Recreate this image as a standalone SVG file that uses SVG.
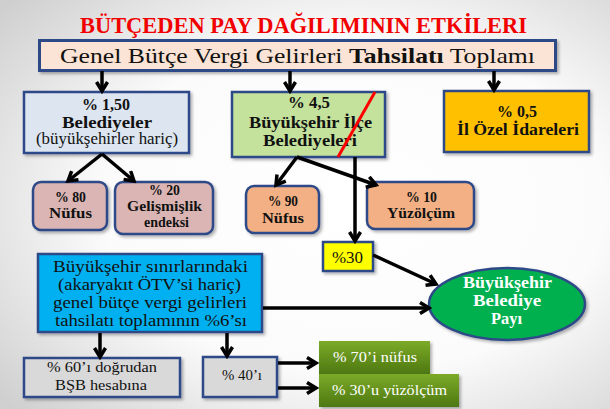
<svg xmlns="http://www.w3.org/2000/svg" width="610" height="409" viewBox="0 0 610 409" font-family="'Liberation Serif', 'DejaVu Serif', serif">
<defs>
<radialGradient id="bg" cx="58%" cy="50%" r="75%">
<stop offset="0" stop-color="#ffffff"/>
<stop offset="0.55" stop-color="#fbfbfb"/>
<stop offset="1" stop-color="#cfcfcf"/>
</radialGradient>
<linearGradient id="gg" x1="0" y1="0" x2="0" y2="1">
<stop offset="0" stop-color="#7caa28"/>
<stop offset="1" stop-color="#4d7812"/>
</linearGradient>
<filter id="sh" x="-10%" y="-10%" width="125%" height="130%">
<feDropShadow dx="2" dy="2" stdDeviation="1.5" flood-color="#000" flood-opacity="0.3"/>
</filter>
<marker id="ah" viewBox="0 0 14 14" markerWidth="14" markerHeight="14" refX="11" refY="7" orient="auto" markerUnits="userSpaceOnUse">
<path d="M2,1.5 L11,7 L2,12.5" fill="none" stroke="#000" stroke-width="3.5"/>
</marker>
</defs>
<style>
text{font-family:'Liberation Serif','DejaVu Serif',serif;fill:#111;}
.b{font-weight:bold;}
.box{stroke:#2e4a88;stroke-width:2.5;filter:url(#sh);}
.con line{stroke:#000;stroke-width:3.5;marker-end:url(#ah);}
.w{fill:#fff;}
</style>
<rect width="610" height="409" fill="url(#bg)"/>

<text id="title" x="80" y="33" font-size="23" class="b" style="fill:#f20000" textLength="447" lengthAdjust="spacingAndGlyphs">BÜTÇEDEN PAY DAĞILIMININ ETKİLERI</text>

<g id="main">
<rect class="box" x="39.5" y="40.5" width="516" height="30" fill="#fbe4d5" style="stroke-width:3"/>
<text x="60" y="63" font-size="21.5" textLength="475" lengthAdjust="spacingAndGlyphs">Genel Bütçe Vergi Gelirleri <tspan class="b">Tahsilatı</tspan> Toplamı</text>
</g>

<g id="belediyeler">
<rect class="box" x="24" y="92" width="165" height="61" fill="#dce5f0"/>
<text x="82" y="110" font-size="16" class="b" textLength="48" lengthAdjust="spacingAndGlyphs">% 1,50</text>
<text x="62" y="128" font-size="16" class="b" textLength="90" lengthAdjust="spacingAndGlyphs">Belediyeler</text>
<text x="36" y="144" font-size="16" textLength="142" lengthAdjust="spacingAndGlyphs">(büyükşehirler hariç)</text>
</g>

<g id="buyuksehir-ilce">
<rect class="box" x="232" y="92" width="153" height="65" fill="#c5e29d"/>
<text x="288" y="108" font-size="16" class="b" textLength="42" lengthAdjust="spacingAndGlyphs">% 4,5</text>
<text x="249" y="128" font-size="16" class="b" textLength="123" lengthAdjust="spacingAndGlyphs">Büyükşehir İlçe</text>
<text x="263" y="146" font-size="16" class="b" textLength="94" lengthAdjust="spacingAndGlyphs">Belediyeleri</text>
</g>

<g id="il-ozel">
<rect class="box" x="444" y="91" width="145" height="61" fill="#ffc000"/>
<text x="497" y="117" font-size="16" class="b" textLength="40" lengthAdjust="spacingAndGlyphs">% 0,5</text>
<text x="457" y="135" font-size="16" class="b" textLength="122" lengthAdjust="spacingAndGlyphs">İl Özel İdareleri</text>
</g>

<g id="nufus80">
<rect class="box" x="33" y="182" width="74" height="48" rx="8" fill="#dab5b3"/>
<text x="55" y="202" font-size="15.5" class="b" textLength="31" lengthAdjust="spacingAndGlyphs">% 80</text>
<text x="49" y="218" font-size="15.5" class="b" textLength="43" lengthAdjust="spacingAndGlyphs">Nüfus</text>
</g>

<g id="gelismislik">
<rect class="box" x="115" y="182" width="98" height="52" rx="8" fill="#dab5b3"/>
<text x="149" y="195" font-size="14.5" class="b" textLength="31" lengthAdjust="spacingAndGlyphs">% 20</text>
<text x="127" y="211" font-size="14.5" class="b" textLength="75" lengthAdjust="spacingAndGlyphs">Gelişmişlik</text>
<text x="144" y="227" font-size="14.5" class="b" textLength="45" lengthAdjust="spacingAndGlyphs">endeksi</text>
</g>

<g id="nufus90">
<rect class="box" x="246" y="186" width="73" height="47" rx="8" fill="#f3b084"/>
<text x="268" y="206" font-size="15.5" class="b" textLength="30" lengthAdjust="spacingAndGlyphs">% 90</text>
<text x="262" y="223" font-size="15.5" class="b" textLength="42" lengthAdjust="spacingAndGlyphs">Nüfus</text>
</g>

<g id="yuzolcum10">
<rect class="box" x="367" y="182" width="107" height="47" rx="8" fill="#f3b084"/>
<text x="406" y="202" font-size="15.5" class="b" textLength="31" lengthAdjust="spacingAndGlyphs">% 10</text>
<text x="387" y="218" font-size="15.5" class="b" textLength="68" lengthAdjust="spacingAndGlyphs">Yüzölçüm</text>
</g>

<g id="yuzde30">
<rect class="box" x="323" y="242" width="50" height="29" fill="#ffff00"/>
<text x="332" y="263" font-size="16" textLength="31" lengthAdjust="spacingAndGlyphs">%30</text>
</g>

<g id="bsb-kaynak">
<rect class="box" x="38" y="254" width="224" height="78" fill="#00b0f0"/>
<text x="53" y="272" font-size="16" textLength="195" lengthAdjust="spacingAndGlyphs">Büyükşehir sınırlarındaki</text>
<text x="58" y="290" font-size="16" textLength="183" lengthAdjust="spacingAndGlyphs">(akaryakıt ÖTV’si hariç)</text>
<text x="53" y="308" font-size="16" textLength="194" lengthAdjust="spacingAndGlyphs">genel bütçe vergi gelirleri</text>
<text x="55" y="326" font-size="16" textLength="192" lengthAdjust="spacingAndGlyphs">tahsilatı toplamının %6’sı</text>
</g>

<g id="bsb-hesabi">
<rect class="box" x="24" y="358" width="156" height="39" fill="#d9d9d9"/>
<text x="47" y="372" font-size="15.5" textLength="110" lengthAdjust="spacingAndGlyphs">% 60’ı doğrudan</text>
<text x="55" y="390" font-size="15.5" textLength="92" lengthAdjust="spacingAndGlyphs">BŞB hesabına</text>
</g>

<g id="yuzde40">
<rect class="box" x="203" y="357" width="74" height="40" fill="#d9d9d9"/>
<text x="222" y="380" font-size="15.5" textLength="40" lengthAdjust="spacingAndGlyphs">% 40’ı</text>
</g>

<g id="nufus70">
<rect x="319" y="341" width="111" height="33" fill="url(#gg)" filter="url(#sh)"/>
<text x="333" y="362" font-size="15.5" class="w" textLength="84" lengthAdjust="spacingAndGlyphs">% 70’i nüfus</text>
</g>

<g id="yuzolcum30">
<rect x="319" y="374" width="140" height="33" fill="url(#gg)" filter="url(#sh)"/>
<text x="332" y="395" font-size="15.5" class="w" textLength="115" lengthAdjust="spacingAndGlyphs">% 30’u yüzölçüm</text>
</g>

<g id="bsb-payi">
<ellipse cx="507" cy="304" rx="78" ry="36" fill="#00b050" stroke="#2e4a88" stroke-width="2.5" filter="url(#sh)"/>
<text x="463" y="288" font-size="16" class="b w" textLength="89" lengthAdjust="spacingAndGlyphs">Büyükşehir</text>
<text x="473" y="306" font-size="16" class="b w" textLength="68" lengthAdjust="spacingAndGlyphs">Belediye</text>
<text x="491" y="324" font-size="16" class="b w" textLength="31" lengthAdjust="spacingAndGlyphs">Payı</text>
</g>

<g id="connectors" class="con">
<line x1="102" y1="71" x2="102" y2="91"/>
<line x1="290" y1="71" x2="290" y2="91"/>
<line x1="494" y1="71" x2="494" y2="90"/>
<line x1="102" y1="154" x2="68" y2="181"/>
<line x1="102" y1="154" x2="134" y2="181"/>
<line x1="297" y1="157" x2="276" y2="185"/>
<line x1="297" y1="157" x2="376" y2="185"/>
<line x1="355" y1="157" x2="355" y2="241"/>
<line x1="373" y1="255" x2="436" y2="284"/>
<line x1="263" y1="308" x2="429" y2="308"/>
<line x1="100" y1="333" x2="100" y2="357"/>
<line x1="227" y1="333" x2="227" y2="356"/>
<line x1="278" y1="363" x2="316" y2="363"/>
<line x1="278" y1="388" x2="316" y2="388"/>
</g>
<line id="cross" x1="375" y1="92" x2="338" y2="157" stroke="#ff0000" stroke-width="3"/>
</svg>
